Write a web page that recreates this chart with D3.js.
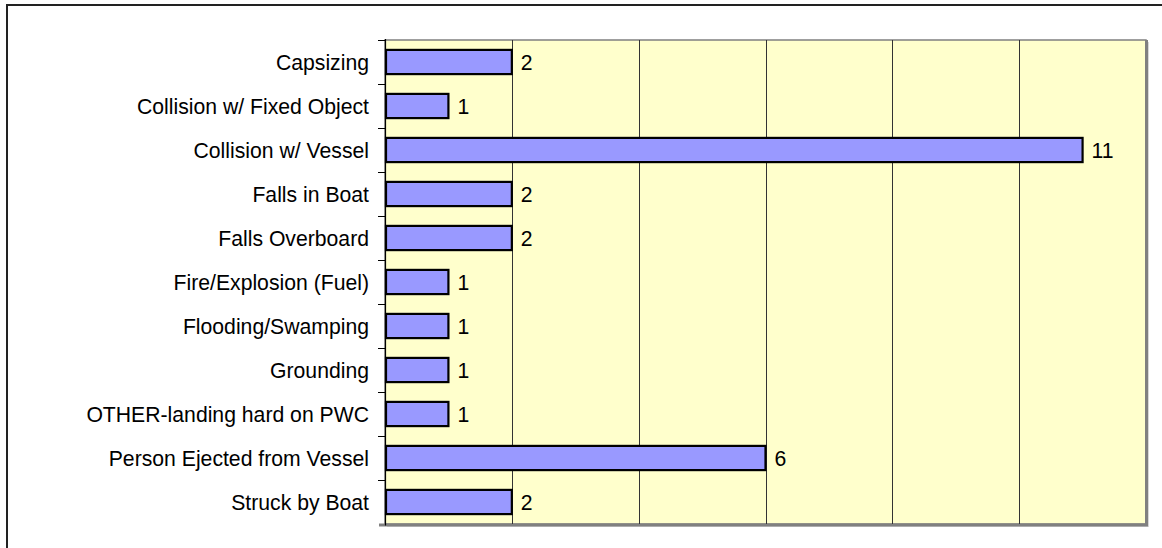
<!DOCTYPE html>
<html>
<head>
<meta charset="utf-8">
<script src="https://cdn.jsdelivr.net/npm/d3@7"></script>
<style>
  html, body { margin: 0; padding: 0; background: #fff; }
  svg { display: block; }
</style>
</head>
<body>
<svg id="chart" width="1162" height="548"></svg>
<script>
const categories = [
  "Capsizing",
  "Collision w/ Fixed Object",
  "Collision w/ Vessel",
  "Falls in Boat",
  "Falls Overboard",
  "Fire/Explosion (Fuel)",
  "Flooding/Swamping",
  "Grounding",
  "OTHER-landing hard on PWC",
  "Person Ejected from Vessel",
  "Struck by Boat"
];
const values = [2, 1, 11, 2, 2, 1, 1, 1, 1, 6, 2];
const gridTicks = [2, 4, 6, 8, 10, 12];

const svg = d3.select("#chart");
const W = 1162, H = 548;
const plot = { left: 385, top: 40, right: 1146, bottom: 524 };
const font = "'Liberation Sans', Arial, sans-serif";
const fsize = 21.2;

// outer frame
svg.append("rect")
  .attr("x", 7).attr("y", 5)
  .attr("width", W).attr("height", H)
  .attr("fill", "#fff")
  .attr("stroke", "#222").attr("stroke-width", 2);

const x = d3.scaleLinear().domain([0, 12]).range([plot.left, plot.right]);
const y = d3.scaleBand().domain(categories).range([plot.top, plot.bottom]).paddingInner(0.45).paddingOuter(0.225);
const yBand = d3.scaleBand().domain(categories).range([plot.top, plot.bottom]);

// shadow of plot area
svg.append("rect")
  .attr("x", plot.left + 2).attr("y", plot.top + 2)
  .attr("width", plot.right - plot.left + 1).attr("height", plot.bottom - plot.top + 1)
  .attr("fill", "#d8d8d8");

// plot background
svg.append("rect")
  .attr("x", plot.left).attr("y", plot.top)
  .attr("width", plot.right - plot.left).attr("height", plot.bottom - plot.top)
  .attr("fill", "#FFFFCC")
  .attr("stroke", "#808080").attr("stroke-width", 1.5);

// thicker right/bottom border
svg.append("path")
  .attr("d", `M${plot.right + 0.5},${plot.top} V${plot.bottom + 1} H${plot.left - 6}`)
  .attr("fill", "none").attr("stroke", "#808080").attr("stroke-width", 3);

// gridlines
svg.append("g").selectAll("line")
  .data(gridTicks.filter(t => t < 12))
  .join("line")
  .attr("x1", d => Math.round(x(d)) + 0.5).attr("x2", d => Math.round(x(d)) + 0.5)
  .attr("y1", plot.top).attr("y2", plot.bottom)
  .attr("stroke", "#333").attr("stroke-width", 1);

// y axis
const yAxis = d3.axisLeft(yBand).tickSize(0).tickPadding(16);
const gy = svg.append("g").attr("transform", `translate(${plot.left},0)`).call(yAxis);
gy.select(".domain").remove();
gy.selectAll("text")
  .attr("font-family", font).attr("font-size", fsize).attr("fill", "#000")
  .attr("dy", "0.38em");

svg.append("line")
  .attr("x1", plot.left + 0.5).attr("x2", plot.left + 0.5)
  .attr("y1", plot.top - 1).attr("y2", plot.bottom + 1.5)
  .attr("stroke", "#000").attr("stroke-width", 1.2);

// ticks between categories
const boundaries = d3.range(categories.length).map(i => yBand.range()[0] + i * yBand.step());
svg.append("g").selectAll("line")
  .data(boundaries)
  .join("line")
  .attr("x1", plot.left - 7).attr("x2", plot.left)
  .attr("y1", d => Math.round(d) + 0.5).attr("y2", d => Math.round(d) + 0.5)
  .attr("stroke", "#000").attr("stroke-width", 1);

// bars
svg.append("g").selectAll("rect")
  .data(categories)
  .join("rect")
  .attr("x", x(0) + 1)
  .attr("y", d => y(d))
  .attr("width", (d, i) => x(values[i]) - x(0) - 1)
  .attr("height", y.bandwidth())
  .attr("fill", "#9999FF")
  .attr("stroke", "#000").attr("stroke-width", 2.2);

// value labels
svg.append("g").selectAll("text")
  .data(categories)
  .join("text")
  .attr("x", (d, i) => x(values[i]) + 9)
  .attr("y", d => y(d) + y.bandwidth() / 2)
  .attr("dy", "0.38em")
  .attr("font-family", font).attr("font-size", fsize).attr("fill", "#000")
  .text((d, i) => values[i]);
</script>
</body>
</html>
